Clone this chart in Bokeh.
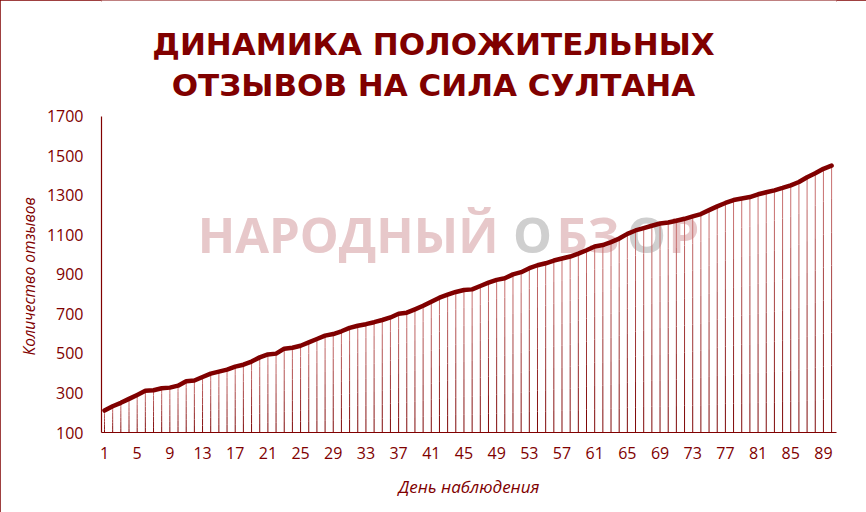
import math
from bokeh.plotting import figure
from bokeh.models import Range1d, FixedTicker, Label, ColumnDataSource, Title
from bokeh.embed import file_html
from bokeh.resources import INLINE

# ---------------- data ----------------
days = list(range(1, 91))
reviews = [211, 233, 250, 270, 290, 311, 314, 324, 327, 337,
           359, 363, 381, 398, 408, 418, 433, 443, 459, 480,
           495, 499, 524, 529, 539, 556, 573, 590, 598, 612,
           629, 640, 648, 658, 669, 682, 701, 706, 723, 741,
           762, 782, 797, 811, 821, 824, 841, 858, 872, 880,
           900, 911, 931, 946, 956, 970, 980, 990, 1005, 1022,
           1041, 1048, 1063, 1081, 1105, 1122, 1134, 1146, 1157, 1162,
           1171, 1181, 1193, 1205, 1225, 1244, 1261, 1276, 1284, 1291,
           1305, 1315, 1325, 1337, 1350, 1367, 1391, 1411, 1434, 1450]
x_ticks = [1, 5, 9, 13, 17, 21, 25, 29, 33, 37, 41, 45, 49, 53, 57, 61, 65, 69, 73, 77, 81, 85, 89]
y_ticks = [100, 300, 500, 700, 900, 1100, 1300, 1500, 1700]
title_lines = ["ДИНАМИКА ПОЛОЖИТЕЛЬНЫХ", "ОТЗЫВОВ НА СИЛА СУЛТАНА"]
y_label = "Количество отзывов"
x_label = "День наблюдения"
watermark_parts = ["НАРОДНЫЙ", "О", "БЗ", "О", "Р"]
base_value = 100
axis_top = 1700

# ---------------- style ----------------
DARK = "#800000"
TICK_FONT = "Open Sans"
TITLE_FONT = "DejaVu Sans"
LABEL_FONT = "Open Sans"

# frame spans the full height so the title can live inside it; axis line bounded to 100..1700
frame_h = 432
px_per_unit = 316.3 / (axis_top - base_value)
y_top = base_value + frame_h / px_per_unit

p = figure(width=866, height=512, output_backend="svg", toolbar_location=None,
           x_range=Range1d(0.633, 90.6), y_range=Range1d(base_value, y_top),
           min_border_left=101, min_border_right=30, min_border_top=0, min_border_bottom=80)
p.outline_line_color = None
p.grid.visible = False
p.background_fill_color = "white"
p.border_fill_color = "white"
p.styles = {"outline": "2px solid #7f0000", "outline-offset": "-2px"}

# watermark (behind the data)
wm_pink = "#e7c8ca"
wm_gray = "#cfcfcf"
wm_layout = [(397, "right", wm_pink), (431, "center", wm_gray), (455, "left", wm_pink),
             (545, "center", wm_gray), (567, "left", wm_pink)]
for txt, (x, align, col) in zip(watermark_parts, wm_layout):
    lab = Label(x=x, y=199, x_units="screen", y_units="screen", text=txt,
                text_font=LABEL_FONT, text_font_style="bold", text_font_size="49px",
                text_color=col, text_align=align, text_baseline="alphabetic", level="underlay")
    p.add_layout(lab)

# gradient drop lines
def mix(c1, c2, t):
    return "#%02x%02x%02x" % tuple(int(round(a + (b - a) * t)) for a, b in zip(c1, c2))

bottom_c = (122, 0, 0)
top_c = (205, 120, 120)
n_pieces = 8
seg = dict(x0=[], y0=[], x1=[], y1=[], c=[])
for d, v in zip(days, reviews):
    for k in range(n_pieces):
        seg["x0"].append(d)
        seg["x1"].append(d)
        seg["y0"].append(base_value + (v - base_value) * k / n_pieces)
        seg["y1"].append(base_value + (v - base_value) * (k + 1) / n_pieces)
        seg["c"].append(mix(bottom_c, top_c, (k + 0.5) / n_pieces))
p.segment(x0="x0", y0="y0", x1="x1", y1="y1", line_color="c", line_width=1,
          source=ColumnDataSource(seg))

# main line
p.line(days, reviews, line_width=4.5, line_color=DARK, line_join="round", line_cap="round")

# axes
for ax in (p.xaxis, p.yaxis):
    ax.axis_line_color = DARK
    ax.axis_line_width = 1.2
    ax.major_tick_line_color = None
    ax.minor_tick_line_color = None
    ax.major_tick_out = 0
    ax.major_tick_in = 0
    ax.minor_tick_out = 0
    ax.major_label_text_color = DARK
    ax.major_label_text_font = TICK_FONT
    ax.major_label_text_font_size = "16px"
p.xaxis.ticker = FixedTicker(ticks=x_ticks)
p.yaxis.ticker = FixedTicker(ticks=y_ticks)
p.yaxis.bounds = (base_value, axis_top)
p.xaxis.major_label_standoff = 14
p.yaxis.major_label_standoff = 18
p.xaxis.axis_label = x_label
p.xaxis.axis_label_text_color = DARK
p.xaxis.axis_label_text_font = LABEL_FONT
p.xaxis.axis_label_text_font_style = "italic"
p.xaxis.axis_label_text_font_size = "17px"
p.xaxis.axis_label_standoff = 13

# y axis label as a side title so it can be centred on the 100..1700 span
p.add_layout(Title(text=y_label, align="left", offset=77, standoff=8,
                   text_font=LABEL_FONT, text_font_style="italic", text_font_size="15.5px",
                   text_color=DARK), "left")

# titles
for txt, y in [(title_lines[0], 389), (title_lines[1], 348)]:
    p.add_layout(Label(x=332, y=y, x_units="screen", y_units="screen", text=txt,
                       text_font=TITLE_FONT, text_font_style="bold", text_font_size="31px",
                       text_color=DARK, text_align="center", text_baseline="alphabetic"))

open("out.html", "w").write(file_html(p, INLINE))
